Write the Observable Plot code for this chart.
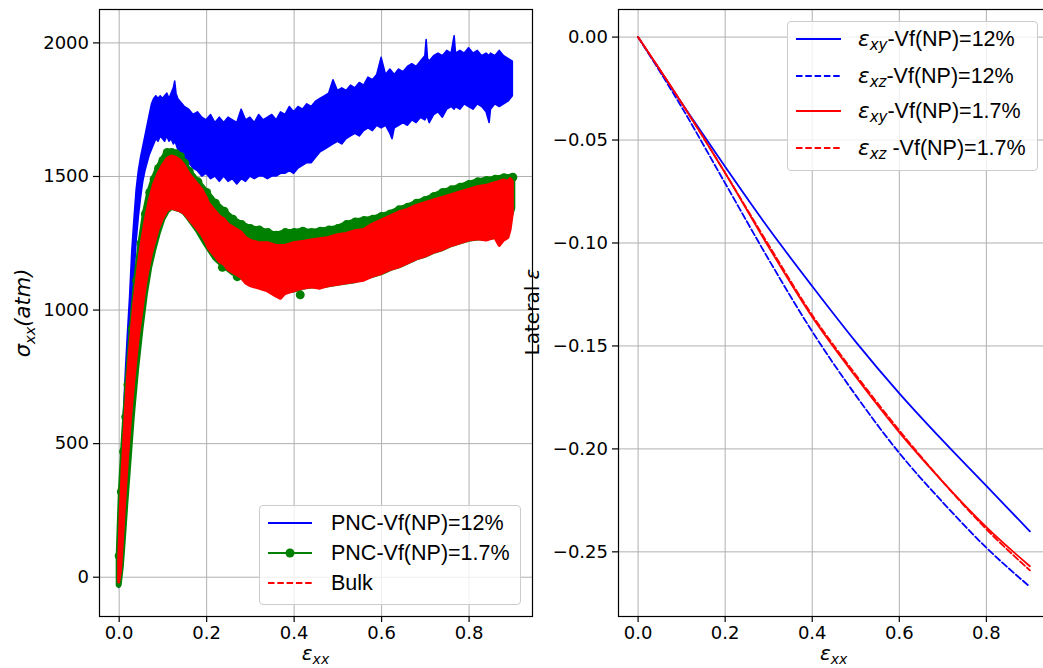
<!DOCTYPE html>
<html><head><meta charset="utf-8">
<script src="https://cdn.jsdelivr.net/npm/d3@7"></script>
<script src="https://cdn.jsdelivr.net/npm/@observablehq/plot@0.6"></script>
<style>
html,body{margin:0;padding:0;background:#fff;overflow:hidden;}
#fig{position:relative;width:1043px;height:668px;overflow:hidden;background:#fff;}
#fig > svg{position:absolute;top:0;}
.leg{position:absolute;background:rgba(255,255,255,0.8);border:1px solid #cccccc;border-radius:4px;box-sizing:border-box;}
.sw{position:absolute;overflow:visible;}
.txt{position:absolute;height:24px;line-height:24px;font-family:"Liberation Sans",Arial,sans-serif;font-size:21.5px;color:#000;white-space:nowrap;}
.m{font-family:"DejaVu Sans";font-style:italic;}
.m sub{font-size:0.7em;vertical-align:-0.28em;line-height:0;}
</style></head><body><div id="fig"></div>
<script>
// ---------- tick values ----------
const xTicks = [0, 0.2, 0.4, 0.6, 0.8];
const stressTicks = [0, 500, 1000, 1500, 2000];
const lateralTicks = [0, -0.05, -0.10, -0.15, -0.20, -0.25];

// ---------- left panel: noisy stress bands [strain, low edge, high edge] ----------
const stressNames = ["PNC-Vf(NP)=12%", "PNC-Vf(NP)=1.7%", "Bulk"];
const blueBand = [
[0,-40,40],[0.004,80,290],[0.008,260,500],[0.012,420,650],[0.016,560,790],[0.02,680,910],
[0.025,830,1050],[0.03,990,1220],[0.035,1130,1340],[0.04,1260,1450],[0.045,1350,1520],
[0.05,1420,1570],[0.055,1480,1610],[0.06,1520,1650],[0.065,1550,1690],[0.07,1580,1730],
[0.075,1600,1770],[0.08,1620,1790],[0.085,1640,1800],[0.09,1630,1790],[0.095,1650,1800],
[0.1,1640,1790],[0.105,1630,1800],[0.11,1650,1810],[0.115,1630,1790],[0.12,1640,1810],
[0.125,1620,1830],[0.128,1630,1855],[0.131,1620,1810],[0.135,1600,1790],[0.14,1590,1780],
[0.145,1570,1770],[0.15,1560,1760],[0.16,1550,1750],[0.17,1530,1730],[0.18,1520,1740],
[0.19,1500,1720],[0.2,1510,1710],[0.21,1490,1730],[0.22,1500,1700],[0.23,1480,1720],
[0.24,1500,1700],[0.25,1480,1720],[0.26,1490,1710],[0.27,1470,1700],[0.28,1490,1750],
[0.29,1480,1710],[0.3,1500,1720],[0.31,1490,1700],[0.32,1500,1730],[0.33,1500,1710],
[0.34,1490,1720],[0.35,1500,1730],[0.36,1500,1710],[0.37,1510,1740],[0.38,1510,1730],
[0.39,1520,1760],[0.4,1510,1740],[0.41,1530,1760],[0.42,1540,1750],[0.43,1550,1770],
[0.44,1550,1760],[0.45,1570,1780],[0.46,1590,1790],[0.47,1600,1800],[0.48,1610,1810],
[0.49,1620,1860],[0.5,1630,1820],[0.51,1620,1830],[0.52,1640,1820],[0.53,1650,1840],
[0.54,1660,1830],[0.55,1650,1850],[0.56,1670,1840],[0.57,1680,1870],[0.58,1670,1860],
[0.59,1690,1880],[0.6,1680,1944],[0.61,1690,1880],[0.62,1660,1900],[0.625,1640,1890],
[0.63,1680,1880],[0.64,1690,1900],[0.65,1700,1890],[0.66,1690,1910],[0.67,1710,1920],
[0.68,1700,1910],[0.69,1720,1930],[0.7,1710,1950],[0.703,1720,2011],[0.706,1720,1940],
[0.71,1700,1930],[0.72,1730,1950],[0.73,1740,1960],[0.74,1720,1950],[0.75,1750,1970],
[0.76,1760,1960],[0.767,1750,2025],[0.77,1760,1960],[0.78,1750,1970],[0.79,1770,1960],
[0.8,1760,1980],[0.81,1750,1960],[0.82,1770,1970],[0.83,1760,1950],[0.84,1740,1960],
[0.847,1700,1950],[0.85,1750,1960],[0.86,1770,1950],[0.87,1760,1970],[0.88,1770,1950],
[0.89,1780,1940],[0.9,1800,1930]
];
const greenBand = [
[0,-30,80],[0.005,40,320],[0.01,150,470],[0.015,270,600],[0.02,380,720],[0.03,600,930],
[0.04,780,1110],[0.05,930,1250],[0.06,1060,1360],[0.07,1160,1440],[0.08,1230,1490],
[0.09,1290,1530],[0.1,1340,1560],[0.11,1370,1590],[0.12,1385,1590],[0.13,1380,1585],
[0.14,1375,1575],[0.15,1365,1550],[0.16,1345,1520],[0.18,1300,1480],[0.2,1245,1440],
[0.22,1195,1400],[0.24,1165,1370],[0.26,1140,1340],[0.28,1125,1320],[0.3,1100,1305],
[0.32,1090,1300],[0.34,1080,1290],[0.36,1065,1280],[0.38,1070,1290],[0.4,1075,1290],
[0.42,1085,1295],[0.44,1090,1290],[0.46,1090,1295],[0.48,1095,1300],
[0.5,1100,1305],[0.52,1105,1320],[0.54,1110,1330],[0.56,1120,1335],[0.58,1130,1340],
[0.6,1140,1350],[0.62,1155,1360],[0.64,1165,1375],[0.66,1180,1385],[0.68,1195,1400],
[0.7,1205,1410],[0.72,1220,1425],[0.74,1230,1440],[0.76,1245,1450],[0.78,1255,1460],
[0.8,1265,1470],[0.82,1270,1480],[0.84,1270,1485],[0.86,1275,1490],[0.88,1275,1495],
[0.9,1380,1497]
];
const greenOutliers = [[0.414, 1057], [0.236, 1160], [0.27, 1125], [0.33, 1090]];
const redBand = [
[0,-20,60],[0.004,20,260],[0.008,120,400],[0.012,230,520],[0.016,340,640],[0.02,440,740],
[0.025,550,850],[0.03,650,940],[0.035,740,1030],[0.04,820,1100],[0.045,900,1170],
[0.05,960,1230],[0.055,1020,1280],[0.06,1080,1330],[0.065,1130,1370],[0.07,1170,1410],
[0.075,1210,1440],[0.08,1240,1470],[0.09,1300,1510],[0.1,1340,1540],[0.11,1370,1565],
[0.12,1380,1575],[0.13,1375,1570],[0.14,1370,1560],[0.15,1360,1540],[0.16,1340,1510],
[0.17,1320,1490],[0.18,1300,1470],[0.19,1280,1450],[0.2,1250,1420],[0.205,1230,1400],
[0.21,1220,1390],[0.22,1200,1370],[0.23,1180,1350],[0.24,1170,1340],[0.25,1150,1320],
[0.26,1140,1310],[0.27,1130,1300],[0.28,1120,1290],[0.29,1100,1270],[0.3,1090,1260],
[0.32,1080,1250],[0.34,1070,1250],[0.36,1050,1240],[0.37,1042,1240],[0.38,1060,1240],
[0.4,1070,1250],[0.42,1080,1255],[0.44,1085,1260],[0.46,1080,1265],[0.48,1090,1270],
[0.5,1095,1280],[0.52,1100,1285],[0.54,1105,1295],[0.56,1110,1300],[0.58,1125,1320],
[0.6,1135,1335],[0.62,1150,1350],[0.64,1160,1365],[0.66,1175,1375],[0.68,1190,1390],
[0.7,1200,1400],[0.72,1215,1410],[0.74,1225,1420],[0.76,1240,1430],[0.78,1250,1440],
[0.8,1260,1450],[0.82,1265,1460],[0.84,1260,1465],[0.86,1270,1475],[0.87,1240,1480],
[0.88,1260,1485],[0.89,1270,1480],[0.895,1300,1490],[0.9,1360,1480]
];

// ---------- right panel: lateral strains ----------
const latX  = [0, 0.1, 0.2, 0.3, 0.4, 0.5, 0.6, 0.7, 0.8, 0.9];
const xy12  = [0, -0.032, -0.063, -0.093, -0.121, -0.148, -0.173, -0.196, -0.218, -0.240];
const xz12  = [0, -0.034, -0.071, -0.108, -0.143, -0.174, -0.202, -0.226, -0.248, -0.267];
const xy17  = [0, -0.032, -0.066, -0.102, -0.136, -0.165, -0.192, -0.216, -0.238, -0.257];
const xz17  = [0, -0.032, -0.066, -0.101, -0.135, -0.164, -0.191, -0.216, -0.239, -0.259];

const BLUE = "#0000ff", GREEN = "#008000", RED = "#ff0000", GRID = "#b0b0b0";
const DASH = "6.5,2.8";

const toBand = b => b.map(([x, lo, hi]) => ({x, lo, hi}));
const blue = toBand(blueBand), green = toBand(greenBand), red = toBand(redBand);
const toLine = (ys) => latX.map((x, i) => ({x, y: ys[i]}));

const baseStyle = {fontFamily: "DejaVu Sans", fontSize: "18px", color: "#000", background: "transparent", overflow: "visible", maxWidth: "none"};

const left = Plot.plot({
  width: 540, height: 668, marginLeft: 99, marginRight: 8, marginTop: 9, marginBottom: 52,
  x: {domain: [-0.045, 0.945]},
  y: {domain: [-147, 2125]},
  style: baseStyle,
  marks: [
    Plot.ruleX(xTicks, {stroke: GRID, strokeWidth: 1}),
    Plot.ruleY(stressTicks, {stroke: GRID, strokeWidth: 1}),
    Plot.areaY(blue, {x: "x", y1: "lo", y2: "hi", fill: BLUE, stroke: BLUE, strokeWidth: 1.6, strokeLinejoin: "round"}),
    Plot.areaY(green, {x: "x", y1: "lo", y2: "hi", fill: GREEN, stroke: GREEN, strokeWidth: 6, strokeLinejoin: "round"}),
    Plot.dot(green, {x: "x", y: "hi", r: 4.5, fill: GREEN, stroke: "none"}),
    Plot.dot(greenOutliers, {x: d => d[0], y: d => d[1], r: 4.5, fill: GREEN, stroke: "none"}),
    Plot.areaY(red, {x: "x", y1: "lo", y2: "hi", fill: RED, stroke: RED, strokeWidth: 3, strokeLinejoin: "round"}),
    Plot.frame({stroke: "#000", strokeWidth: 1.2}),
    Plot.axisX(xTicks, {tickSize: 6, tickPadding: 4, tickFormat: d3.format(".1f"), label: null, fontSize: 18, strokeWidth: 1.2}),
    Plot.axisY(stressTicks, {tickSize: 6, tickPadding: 4.5, tickFormat: d3.format("d"), label: null, fontSize: 18, strokeWidth: 1.2})
  ]
});

const right = Plot.plot({
  width: 540, height: 668, marginLeft: 100, marginRight: 9, marginTop: 9, marginBottom: 52,
  x: {domain: [-0.045, 0.945]},
  y: {domain: [-0.2814, 0.0134]},
  style: baseStyle,
  marks: [
    Plot.ruleX(xTicks, {stroke: GRID, strokeWidth: 1}),
    Plot.ruleY(lateralTicks, {stroke: GRID, strokeWidth: 1}),
    Plot.line(toLine(xy12), {x: "x", y: "y", stroke: BLUE, strokeWidth: 1.8, curve: "monotone-x"}),
    Plot.line(toLine(xz12), {x: "x", y: "y", stroke: BLUE, strokeWidth: 1.8, strokeDasharray: DASH, curve: "monotone-x"}),
    Plot.line(toLine(xy17), {x: "x", y: "y", stroke: RED, strokeWidth: 1.8, curve: "monotone-x"}),
    Plot.line(toLine(xz17), {x: "x", y: "y", stroke: RED, strokeWidth: 1.8, strokeDasharray: DASH, curve: "monotone-x"}),
    Plot.frame({stroke: "#000", strokeWidth: 1.2}),
    Plot.axisX(xTicks, {tickSize: 6, tickPadding: 4, tickFormat: d3.format(".1f"), label: null, fontSize: 18, strokeWidth: 1.2}),
    Plot.axisY(lateralTicks, {tickSize: 6, tickPadding: 4.5, tickFormat: d3.format(".2f"), label: null, fontSize: 18, strokeWidth: 1.2})
  ]
});

const fig = document.getElementById("fig");
left.style.left = "0px";
right.style.left = "518px";
fig.append(left, right);

// ---------- axis labels (mathtext-like) ----------
function xLabel(svg, cx) {
  const t = d3.select(svg).append("text")
    .attr("x", cx).attr("y", 660).attr("text-anchor", "middle")
    .attr("font-family", "DejaVu Sans").attr("font-style", "italic").attr("font-size", 20).attr("fill", "#000");
  t.append("tspan").text("ε");
  t.append("tspan").attr("font-size", 14).attr("dy", 4).text("xx");
}
xLabel(left, 315.5);
xLabel(right, 315.7);

{
  const t = d3.select(left).append("text")
    .attr("transform", "translate(30,313) rotate(-90)").attr("text-anchor", "middle")
    .attr("font-family", "DejaVu Sans").attr("font-style", "italic").attr("font-size", 21).attr("fill", "#000");
  t.append("tspan").text("σ");
  t.append("tspan").attr("font-size", 14.7).attr("dy", 4.5).text("xx");
  t.append("tspan").attr("dy", -4.5).text("(atm)");
}
{
  const t = d3.select(right).append("text")
    .attr("transform", "translate(21,312) rotate(-90)").attr("text-anchor", "middle")
    .attr("font-family", "DejaVu Sans").attr("font-size", 20).attr("fill", "#000");
  t.append("tspan").text("Lateral ");
  t.append("tspan").attr("font-style", "italic").text("ε");
}

// ---------- legends ----------
function legendBox(l, t, w, h) {
  const d = document.createElement("div");
  d.className = "leg";
  Object.assign(d.style, {left: l + "px", top: t + "px", width: w + "px", height: h + "px"});
  fig.append(d);
}
function swatch(x1, x2, cy, color, dash, marker) {
  const ns = "http://www.w3.org/2000/svg";
  const s = document.createElementNS(ns, "svg");
  s.setAttribute("class", "sw");
  s.setAttribute("width", x2 - x1); s.setAttribute("height", 14);
  s.style.left = x1 + "px"; s.style.top = (cy - 7) + "px";
  const ln = document.createElementNS(ns, "line");
  ln.setAttribute("x1", 0); ln.setAttribute("x2", x2 - x1); ln.setAttribute("y1", 7); ln.setAttribute("y2", 7);
  ln.setAttribute("stroke", color); ln.setAttribute("stroke-width", 2);
  if (dash) ln.setAttribute("stroke-dasharray", DASH);
  s.append(ln);
  if (marker) {
    const c = document.createElementNS(ns, "circle");
    c.setAttribute("cx", (x2 - x1) / 2); c.setAttribute("cy", 7); c.setAttribute("r", 4.5); c.setAttribute("fill", color);
    s.append(c);
  }
  fig.append(s);
}
function label(x, cy, html) {
  const d = document.createElement("div");
  d.className = "txt";
  d.style.left = x + "px"; d.style.top = (cy - 12) + "px";
  d.innerHTML = html;
  fig.append(d);
}

legendBox(259, 505, 262, 100);
const leftRows = [[522.7, BLUE, false, false], [552.7, GREEN, false, true], [583.3, RED, true, false]];
leftRows.forEach(([cy, c, dash, mk], i) => { swatch(268, 312, cy, c, dash, mk); label(331, cy, stressNames[i]); });

legendBox(787, 21, 251, 150);
const latLabels = [
  '<span class="m">ε<sub>xy</sub></span>-Vf(NP)=12%',
  '<span class="m">ε<sub>xz</sub></span>-Vf(NP)=12%',
  '<span class="m">ε<sub>xy</sub></span>-Vf(NP)=1.7%',
  '<span class="m">ε<sub>xz</sub></span> -Vf(NP)=1.7%'
];
const rightRows = [[38.5, BLUE, false], [75.5, BLUE, true], [111, RED, false], [148, RED, true]];
rightRows.forEach(([cy, c, dash], i) => { swatch(796, 841, cy, c, dash, false); label(858, cy, latLabels[i]); });
</script></body></html>
